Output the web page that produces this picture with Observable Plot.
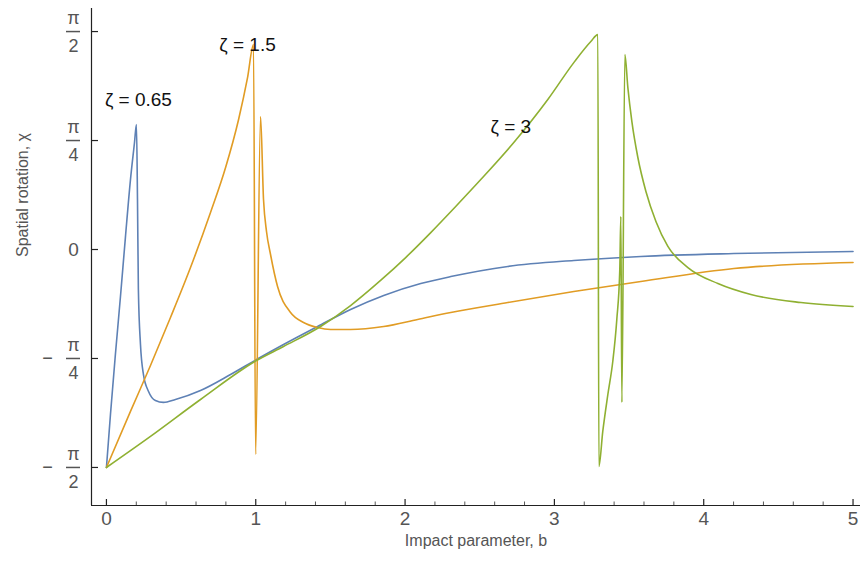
<!DOCTYPE html>
<html><head><meta charset="utf-8">
<script src="https://cdn.jsdelivr.net/npm/d3@7"></script>
<script src="https://cdn.jsdelivr.net/npm/@observablehq/plot@0.6"></script>
<style>
body{margin:0;background:#fff}
svg{font-family:"Liberation Sans",Arial,sans-serif}
</style>
</head><body><div id="chart"></div>
<script>
const PI = Math.PI;

// ζ = 0.65 (blue)
const blueB   = [0, 0.027, 0.060, 0.094, 0.127, 0.161, 0.188, 0.201, 0.208, 0.214, 0.228, 0.248, 0.282, 0.328, 0.382, 0.462, 0.630, 0.831, 1.005, 1.186, 1.414, 1.635, 1.857, 2.105, 2.306, 2.688, 3.130, 3.579, 4.202, 5.0];
const blueChi = [-1.571, -1.189, -0.757, -0.339, 0.086, 0.504, 0.771, 0.901, 0.360, -0.288, -0.685, -0.901, -1.023, -1.088, -1.102, -1.081, -1.016, -0.901, -0.793, -0.685, -0.555, -0.432, -0.331, -0.245, -0.195, -0.122, -0.079, -0.050, -0.029, -0.014];

// ζ = 1.5 (orange)
const orangeB   = [0, 0.161, 0.295, 0.429, 0.563, 0.697, 0.798, 0.885, 0.945, 0.985, 0.999, 1.032, 1.052, 1.072, 1.099, 1.146, 1.233, 1.320, 1.414, 1.501, 1.635, 1.857, 2.084, 2.306, 2.688, 3.130, 3.579, 4.202, 5.0];
const orangeChi = [-1.571, -1.167, -0.836, -0.490, -0.130, 0.267, 0.591, 0.937, 1.239, 1.477, -1.477, 0.958, 0.360, 0.130, -0.036, -0.267, -0.454, -0.526, -0.562, -0.576, -0.576, -0.555, -0.504, -0.454, -0.382, -0.303, -0.231, -0.137, -0.094];

// ζ = 3 (green)
const greenB   = [0, 0.295, 0.630, 1.005, 1.186, 1.434, 1.635, 1.836, 2.004, 2.172, 2.339, 2.507, 2.728, 2.956, 3.130, 3.244, 3.291, 3.298, 3.324, 3.358, 3.391, 3.418, 3.438, 3.445, 3.452, 3.472, 3.492, 3.519, 3.559, 3.613, 3.680, 3.760, 3.894, 4.095, 4.316, 4.651, 5.0];
const greenChi = [-1.571, -1.347, -1.081, -0.800, -0.699, -0.555, -0.404, -0.223, -0.058, 0.122, 0.310, 0.504, 0.771, 1.081, 1.347, 1.499, 1.549, -1.564, -1.311, -1.045, -0.807, -0.504, -0.144, 0.238, -1.102, 1.405, 1.167, 0.922, 0.663, 0.418, 0.202, 0.022, -0.130, -0.245, -0.324, -0.382, -0.411];

const seriesColors = ["#5E81B5", "#E19C24", "#8FB032"];

// annotations
const labelText = ["ζ = 0.65", "ζ = 1.5", "ζ = 3"];
const labelB    = [0.214, 0.945, 2.708];
const labelChi  = [1.081, 1.477, 0.886];

// ticks
const xMajor = [0, 1, 2, 3, 4, 5];
const xMinor = [0.2, 0.4, 0.6, 0.8, 1.2, 1.4, 1.6, 1.8, 2.2, 2.4, 2.6, 2.8, 3.2, 3.4, 3.6, 3.8, 4.2, 4.4, 4.6, 4.8];
const yTickVals = [-PI/2, -PI/4, 0, PI/4, PI/2];
const yTickNum  = ["π", "π", "0", "π", "π"];
const yTickDen  = ["2", "4", "", "4", "2"];
const yTickSign = ["−", "−", "", "", ""];

const xDomain = [-0.1, 5.05];
const yDomain = [-1.845, 1.737];

const W = 866, H = 563, mL = 91, mR = 6, mT = 8, mB = 58;
const plotW = W - mL - mR, plotH = H - mT - mB;
// data units per pixel (used only to give tick marks a fixed pixel length)
const xPerPx = (xDomain[1] - xDomain[0]) / plotW;
const yPerPx = (yDomain[1] - yDomain[0]) / plotH;

const rows = (b, c) => b.map((v, i) => ({b: v, chi: c[i]}));
const yTicks = yTickVals.map((v, i) => ({v, num: yTickNum[i], den: yTickDen[i], sign: yTickSign[i]}));
const fracTicks = yTicks.filter(d => d.den !== "");
const zeroTicks = yTicks.filter(d => d.den === "");
const labels = labelText.map((t, i) => ({t, b: labelB[i], chi: labelChi[i]}));

const gray = "#555";
const lineOpts = {x: "b", y: "chi", strokeWidth: 1.6, curve: "monotone-x"};

const chart = Plot.plot({
  width: W, height: H,
  marginLeft: mL, marginRight: mR, marginTop: mT, marginBottom: mB,
  x: {domain: xDomain, axis: null},
  y: {domain: yDomain, axis: null},
  marks: [
    Plot.line(rows(blueB, blueChi), {...lineOpts, stroke: seriesColors[0]}),
    Plot.line(rows(orangeB, orangeChi), {...lineOpts, stroke: seriesColors[1]}),
    Plot.line(rows(greenB, greenChi), {...lineOpts, stroke: seriesColors[2]}),
    // axis lines
    Plot.ruleX([xDomain[0]], {stroke: "#222", strokeWidth: 1.2}),
    Plot.ruleY([yDomain[0]], {stroke: "#222", strokeWidth: 1.2}),
    // x ticks (pointing into the plot)
    Plot.ruleX(xMajor, {x: d => d, y1: yDomain[0], y2: yDomain[0] + 6 * yPerPx, stroke: "#222", strokeWidth: 1.2}),
    Plot.ruleX(xMinor, {x: d => d, y1: yDomain[0], y2: yDomain[0] + 3.5 * yPerPx, stroke: "#444", strokeWidth: 0.9}),
    Plot.axisX({ticks: xMajor, tickFormat: d => String(d), tickSize: 0, tickPadding: 6, fontSize: 19, fill: gray, label: null}),
    // y ticks (pointing into the plot)
    Plot.ruleY(yTickVals, {y: d => d, x1: xDomain[0], x2: xDomain[0] + 7 * xPerPx, stroke: "#222", strokeWidth: 1.2}),
    // fraction tick labels
    Plot.text(fracTicks, {y: "v", text: "num", frameAnchor: "left", dx: -18, dy: -13, textAnchor: "middle", fontSize: 18, fill: gray}),
    Plot.text(fracTicks, {y: "v", text: "den", frameAnchor: "left", dx: -18, dy: 15, textAnchor: "middle", fontSize: 18, fill: gray}),
    Plot.ruleY(fracTicks, {y: "v", x1: xDomain[0] - 25 * xPerPx, x2: xDomain[0] - 11 * xPerPx, stroke: gray, strokeWidth: 1.5}),
    Plot.text(fracTicks.filter(d => d.sign), {y: "v", text: "sign", frameAnchor: "left", dx: -44, textAnchor: "middle", fontSize: 18, fill: gray}),
    Plot.text(zeroTicks, {y: "v", text: "num", frameAnchor: "left", dx: -18, textAnchor: "middle", fontSize: 19, fill: gray}),
    // axis titles
    Plot.text(["Impact parameter, b"], {frameAnchor: "bottom", dy: 40, fontSize: 16, fill: gray}),
    Plot.text(["Spatial rotation, χ"], {frameAnchor: "left", dx: -69, rotate: -90, fontSize: 16, fill: gray}),
    // annotations
    Plot.text(labels, {x: "b", y: "chi", text: "t", fontSize: 19, fill: "#111"})
  ]
});
document.getElementById("chart").appendChild(chart);
</script>
</body></html>
